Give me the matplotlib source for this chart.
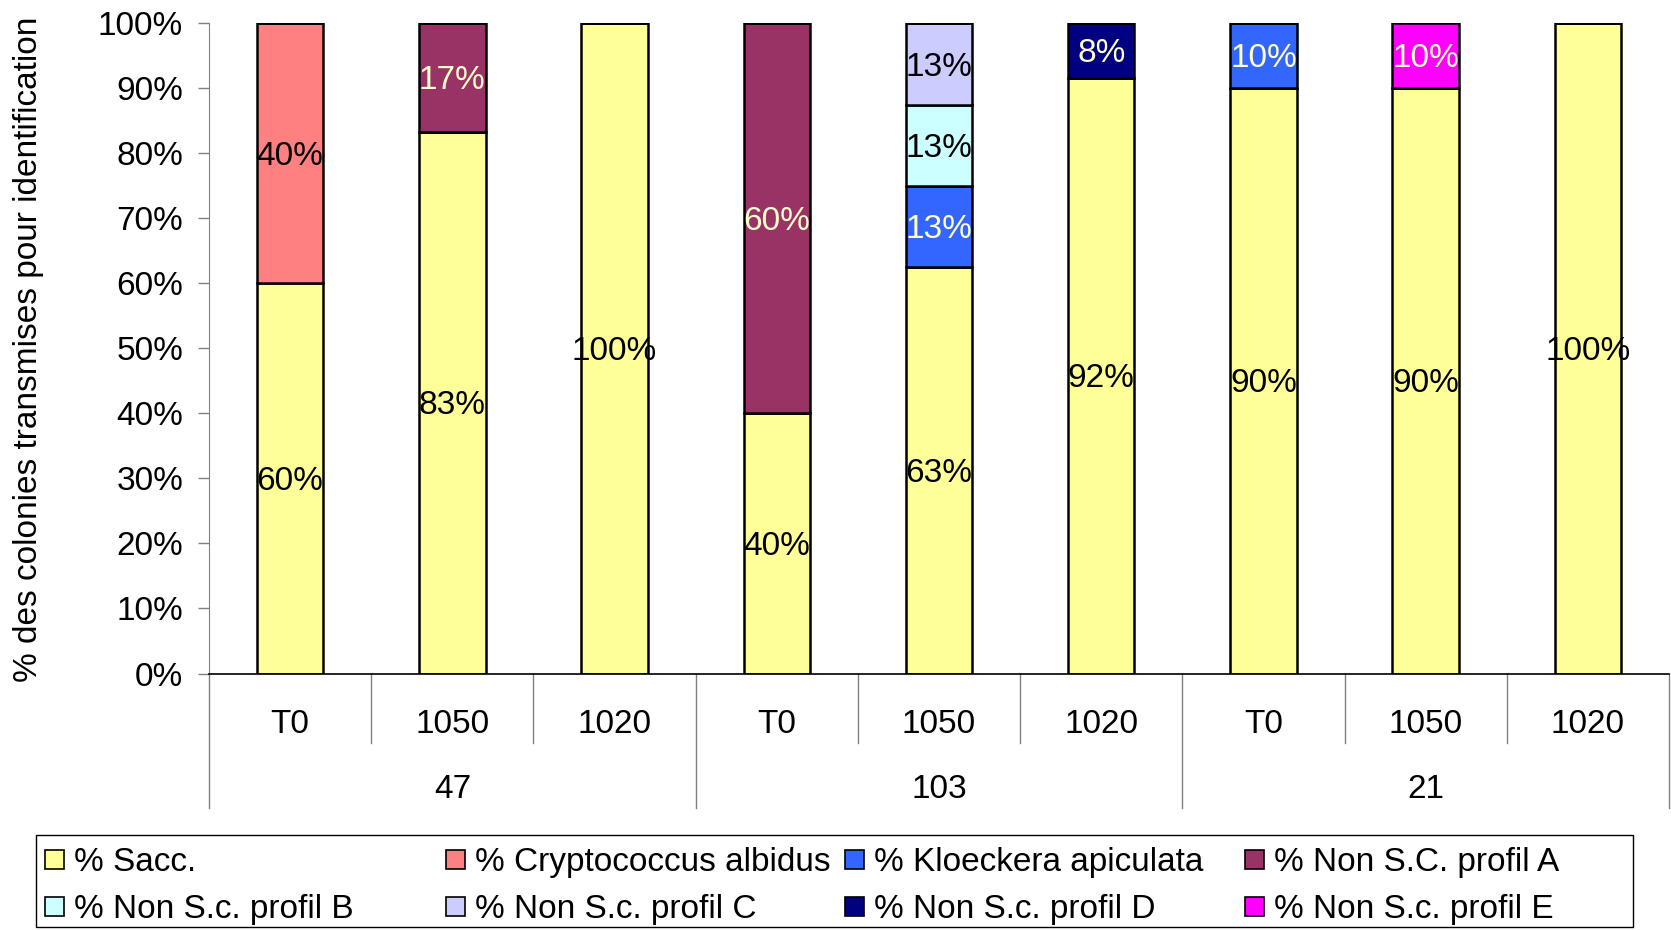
import matplotlib
matplotlib.use('Agg')
import matplotlib.pyplot as plt
from matplotlib.patches import Rectangle
import matplotlib.transforms as mtransforms

plt.rcParams['font.family'] = ['Liberation Sans', 'DejaVu Sans']

# categories: fermentation stage within each sample
groups = ['47', '103', '21']
stages = ['T0', '1050', '1020']

series_names = [
    '% Sacc.',
    '% Cryptococcus albidus',
    '% Kloeckera apiculata',
    '% Non S.C. profil A',
    '% Non S.c. profil B',
    '% Non S.c. profil C',
    '% Non S.c. profil D',
    '% Non S.c. profil E',
]
sacc = [60, 83.33, 100, 40, 62.5, 91.67, 90, 90, 100]
cryptococcus = [40, 0, 0, 0, 0, 0, 0, 0, 0]
kloeckera = [0, 0, 0, 0, 12.5, 0, 10, 0, 0]
profil_a = [0, 16.67, 0, 60, 0, 0, 0, 0, 0]
profil_b = [0, 0, 0, 0, 12.5, 0, 0, 0, 0]
profil_c = [0, 0, 0, 0, 12.5, 0, 0, 0, 0]
profil_d = [0, 0, 0, 0, 0, 8.33, 0, 0, 0]
profil_e = [0, 0, 0, 0, 0, 0, 0, 10, 0]

series = [sacc, cryptococcus, kloeckera, profil_a, profil_b, profil_c, profil_d, profil_e]
colors = ['#FFFF99', '#FF8080', '#3366FF', '#993366', '#CCFFFF', '#CCCCFF', '#000080', '#FF00FF']
text_colors = ['black', 'black', '#FFFFCC', '#FFFFCC', 'black', 'black', '#FFFFCC', '#FFFFCC']

FS = 24
W, H = 1671.0, 930.0

fig = plt.figure(figsize=(16.71, 9.30), dpi=100)
ax = fig.add_axes([0.1251, 0.2758, 0.8737, 0.6990])

# text sits slightly below the geometric centre
label_trans = mtransforms.offset_copy(ax.transData, fig=fig, y=-3, units='dots')

n = len(sacc)
xs = list(range(n))
bottom = [0.0] * n
for vals, col, tcol in zip(series, colors, text_colors):
    ax.bar(xs, vals, width=0.41, bottom=bottom, color=col,
           edgecolor='black', linewidth=1.8, zorder=2)
    for x, v, b in zip(xs, vals, bottom):
        if v > 0:
            ax.text(x, b + v / 2, '%d%%' % int(v + 0.5), ha='center', va='center',
                    fontsize=FS, color=tcol, zorder=3, transform=label_trans)
    bottom = [b + v for b, v in zip(bottom, vals)]

ax.set_xlim(-0.5, n - 0.5)
ax.set_ylim(0, 100)
ax.set_yticks(range(0, 101, 10))
ax.set_yticklabels(['%d%%' % t for t in range(0, 101, 10)], fontsize=FS)
ax.tick_params(axis='y', length=7.7, width=1, color='#808080', pad=11)
ax.set_xticks([])
for s in ('top', 'right'):
    ax.spines[s].set_visible(False)
ax.spines['left'].set_color('#808080')
ax.spines['bottom'].set_color('black')
ax.spines['bottom'].set_linewidth(1.2)

# two-level category axis
trans = mtransforms.blended_transform_factory(ax.transData, ax.transAxes)
text_trans = mtransforms.offset_copy(trans, fig=fig, y=-3, units='dots')
for i in range(n + 1):
    x = i - 0.5
    y_end = -0.2066 if i % 3 == 0 else -0.1066
    ax.plot([x, x], [0, y_end], color='#808080', lw=1, transform=trans, clip_on=False)
for i in range(n):
    ax.text(i, -0.0738, stages[i % 3], ha='center', va='center', fontsize=FS,
            transform=text_trans)
for g, name in enumerate(groups):
    ax.text(g * 3 + 1, -0.1738, name, ha='center', va='center', fontsize=FS,
            transform=text_trans)

fig.text(29 / W, 1 - 349 / H, '% des colonies transmises pour identification',
         rotation=90, ha='center', va='center', fontsize=FS)

# legend: four equal-width columns in a framed box
fig.patches.append(Rectangle((36 / W, 1 - 927 / H), (1633 - 36) / W, 92.5 / H,
                             transform=fig.transFigure, facecolor='white',
                             edgecolor='black', linewidth=1))
col_x = [44.8, 445.5, 845.0, 1244.7]
row_y = [859.0, 906.0]
box = 19.0
for i, (name, col) in enumerate(zip(series_names, colors)):
    cx = col_x[i % 4]
    cy = row_y[i // 4]
    fig.patches.append(Rectangle((cx / W, 1 - (cy + box / 2) / H), box / W, box / H,
                                 transform=fig.transFigure, facecolor=col,
                                 edgecolor='black', linewidth=1.2))
    fig.text((cx + 29) / W, 1 - (cy + 3) / H, name, ha='left', va='center', fontsize=FS)

fig.savefig('out.png', dpi=100)
